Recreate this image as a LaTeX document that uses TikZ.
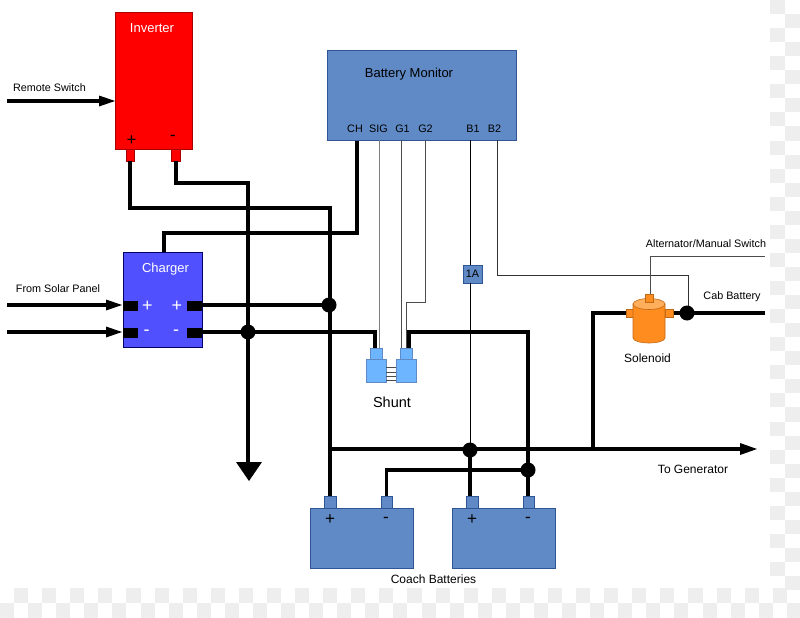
\documentclass[tikz,border=0pt]{standalone}
\usepackage{fontspec}
\setmainfont{Liberation Sans}
\usetikzlibrary{arrows.meta,calc}
\definecolor{mblue}{HTML}{5F8AC5}
\definecolor{mblueD}{HTML}{2F5597}
\definecolor{chg}{HTML}{5050FF}
\definecolor{shu}{HTML}{6DB6FF}
\definecolor{sol}{HTML}{FF8C1E}
\definecolor{solL}{HTML}{FFAE5C}
\definecolor{chk}{HTML}{EEEEEE}
\tikzset{
 x=1pt,y=-1pt,
 bluebox/.style={fill=mblue,draw=mblueD,line width=.8pt},
 redbox/.style={fill=red,draw=red!65!black,line width=.7pt},
 chgbox/.style={fill=chg,draw=blue!40!black,line width=.8pt},
 shubox/.style={fill=shu,draw=mblue,line width=.7pt},
 solbox/.style={fill=sol,draw=sol!75!black,line width=.6pt},
 heavy/.style={line width=3.2pt,black,line cap=butt,line join=miter},
 wirethin/.style={line width=.8pt,#1},
 junction/.style={circle,fill=black,inner sep=0,minimum size=15pt},
 blk/.style={fill=black,draw=none},
 lab/.style={font=\fontsize{10.8}{12}\selectfont,text=black,inner sep=0},
 lab2/.style={font=\fontsize{12}{14}\selectfont,text=black,inner sep=0},
 wlab/.style={font=\fontsize{13}{15}\selectfont,text=white,inner sep=0},
 sgn/.style={font=\fontsize{17}{18}\selectfont,inner sep=0},
 wsgn/.style={font=\fontsize{18}{18}\selectfont,text=white,inner sep=0},
}
\newcommand{\bx}[6]{\node[rectangle,inner sep=0,minimum width=#4pt-#3pt,minimum height=#6pt-#5pt,#2] (#1) at ({(#3+#4)/2},{(#5+#6)/2}) {};}
\begin{document}
\begin{tikzpicture}
\useasboundingbox (0,0) rectangle (800,618);
\fill[white] (0,0) rectangle (800,618);
% checker background strips
\foreach \i in {0,...,41}{
  \pgfmathsetmacro{\yy}{\i*14.05}
  \ifodd\i
    \fill[chk] (785,\yy) rectangle (800,\yy+14.05);
  \else
    \fill[chk] (770,\yy) rectangle (785,\yy+14.05);
  \fi
}
\foreach \i in {0,...,56}{
  \pgfmathsetmacro{\xx}{\i*14.05}
  \ifodd\i
    \fill[chk] (\xx,587.5) rectangle (\xx+14.05,602.5);
  \else
    \fill[chk] (\xx,602.5) rectangle (\xx+14.05,618);
  \fi
}
% free ends and corners
\coordinate (invPc) at (130,208);
\coordinate (mainTop) at (330,208);
\coordinate (invMc) at (176,183);
\coordinate (gndTop) at (248,183);
\coordinate (gndEnd) at (248,464);
\coordinate (chTop) at (164,233);
\coordinate (chCorner) at (357,233);
\coordinate (chPin) at (357,141);
\coordinate (solA) at (7,305);
\coordinate (solB) at (7,332);
\coordinate (rem) at (7,101);
\coordinate (mainEnd) at (757,449);
\coordinate (mainStart) at (330,449);
\coordinate (cabEnd) at (765,313);
\coordinate (altEnd) at (765,256);
\coordinate (genCorner) at (593,313);
\coordinate (genFoot) at (593,449);
% thin wires
\bx{mon}{bluebox}{327}{516}{50}{140}
\bx{fuse}{bluebox}{463}{482}{265}{283}
\coordinate (pinSIG) at (379,140);
\coordinate (pinGa) at (401,140);
\coordinate (pinGb) at (425,140);
\coordinate (pinBa) at (470,140);
\coordinate (pinBb) at (497,140);
\draw[wirethin=gray] (pinSIG) -- (379,348);
\draw[wirethin=black!70] (pinGa) -- (401,348);
\draw[wirethin=black!70] (pinGb) -- (425,302) -- (406,302) -- (406,348);
\draw[wirethin=black] (pinBa) -- (470,265);
\draw[wirethin=black] (470,283) -- (470,450);
\draw[wirethin=black!80] (pinBb) -- (497,275) -- (688,275) -- (688,313);
\draw[wirethin=black!70] (650,296) -- (650,256) -- (altEnd);
% blocks
\bx{inv}{redbox}{115}{192}{12}{149}
\bx{invP}{redbox}{126}{134}{149}{161}
\bx{invM}{redbox}{171}{180}{149}{161}
\bx{chg}{chgbox}{123}{202}{252}{347}
\bx{batA}{bluebox}{310}{413}{508}{568}
\bx{batB}{bluebox}{452}{555}{508}{568}
\bx{tA}{bluebox}{324}{336}{496}{508}
\bx{tB}{bluebox}{381}{392}{496}{508}
\bx{tC}{bluebox}{466}{478}{496}{508}
\bx{tD}{bluebox}{523}{534}{496}{508}
% heavy wires
\draw[heavy] (130,161) -- (invPc) -- (mainTop) -- (tA.north);
\draw[heavy] (176,161) -- (invMc) -- (gndTop) -- (gndEnd);
\draw[heavy] (chTop |- chg.north) -- (chTop) -- (chCorner) -- (chPin);
\draw[heavy] (202,305) -- (329,305);
\draw[heavy] (202,332) -- (375,332) -- (375,349);
\draw[heavy] (409,349) -- (409,332) -- (528,332) -- (528,496);
\draw[heavy] (mainStart) -- (742,449);
\draw[heavy] (genFoot) -- (genCorner) -- (628,313);
\draw[heavy] (tB.north) -- (386.5,470) -- (528,470);
\draw[heavy] (470,450) -- (470,496);
\draw[heavy] (672,313) -- (cabEnd);
% arrows
\draw[heavy] (rem) -- (100,101);
\fill[black] (99,95.5) -- (115,101) -- (99,106.5) -- cycle;
\draw[heavy] (solA) -- (107,305);
\fill[black] (106,299.5) -- (122,305) -- (106,310.5) -- cycle;
\draw[heavy] (solB) -- (107,332);
\fill[black] (106,326.5) -- (122,332) -- (106,337.5) -- cycle;
\fill[black] (740,443) -- (757,449) -- (740,455) -- cycle;
\fill[black] (236,462) -- (262,462) -- (249,481) -- cycle;
% junctions
\node[junction] (j1) at (329,305) {};
\node[junction] (j2) at (248,332) {};
\node[junction] (j3) at (470,450) {};
\node[junction] (j4) at (528,470) {};
\node[junction] (j5) at (687,313) {};
% charger terminals
\bx{cp1}{blk}{123}{138}{301}{311}
\bx{cm1}{blk}{123}{138}{328}{338}
\bx{cp2}{blk}{187}{202}{301}{311}
\bx{cm2}{blk}{187}{202}{328}{338}
% shunt
\bx{shA}{shubox}{370}{382}{348}{359}
\bx{shB}{shubox}{400}{412}{348}{359}
\bx{shC}{shubox}{366}{386}{359}{382}
\bx{shD}{shubox}{396}{416}{359}{382}
\foreach \yy in {367,372,376,380}{\draw[line width=.6pt,black!70] (shC.east |- 0,\yy) -- (shD.west |- 0,\yy);}
% solenoid
\bx{sa}{solbox}{626}{634}{309}{317}
\bx{sb}{solbox}{665}{673}{309}{317}
\path[fill=sol,draw=sol!75!black,line width=.6pt] (633,304) -- (633,338) arc[start angle=180,end angle=360,x radius=16,y radius=-5] -- (665,304) -- cycle;
\draw[fill=solL,draw=sol!75!black,line width=.6pt] (649,304) ellipse[x radius=16,y radius=5.5];
\bx{sc}{solbox}{645}{653}{294}{302}
% labels
\node[wlab] (tInv) at (152,28) {Inverter};
\node[lab] (tRem) at (49.5,87.5) {Remote Switch};
\node[lab] (tSol) at (58,289) {From Solar Panel};
\node[wlab] (tChg) at (165.5,269) {Charger};
\node[sgn,text=black] at (131.5,140.5) {+};
\node[sgn,text=black] at (173,138) {-};
\node[wsgn] at (147.5,306) {+};
\node[wsgn] at (177,306) {+};
\node[wsgn] at (146.5,333) {-};
\node[wsgn] at (176,333) {-};
\node[font=\fontsize{13}{15}\selectfont,text=black,inner sep=0] (tMon) at (409,74) {Battery Monitor};
\foreach \t/\xx in {CH/355,SIG/378.5,G1/402.5,G2/425.5,B1/473,B2/494.5}{
  \node[lab] at (\xx,129) {\t};
}
\node[lab] (tFuse) at (472.5,274) {1A};
\node[font=\fontsize{14.5}{16}\selectfont,text=black,inner sep=0] (tShu) at (392,402) {Shunt};
\node[lab] (tAlt) at (706,244) {Alternator/Manual Switch};
\node[lab] (tCab) at (732,297) {Cab Battery};
\node[lab2] (tSolenoid) at (647.5,358) {Solenoid};
\node[lab2] (tGen) at (693,469) {To Generator};
\node[lab2] (tCoach) at (433.5,579.5) {Coach Batteries};
\node[sgn,text=black] at (330,519.5) {+};
\node[sgn,text=black] at (386,520) {-};
\node[sgn,text=black] at (472,519.5) {+};
\node[sgn,text=black] at (528,520) {-};
\end{tikzpicture}
\end{document}
